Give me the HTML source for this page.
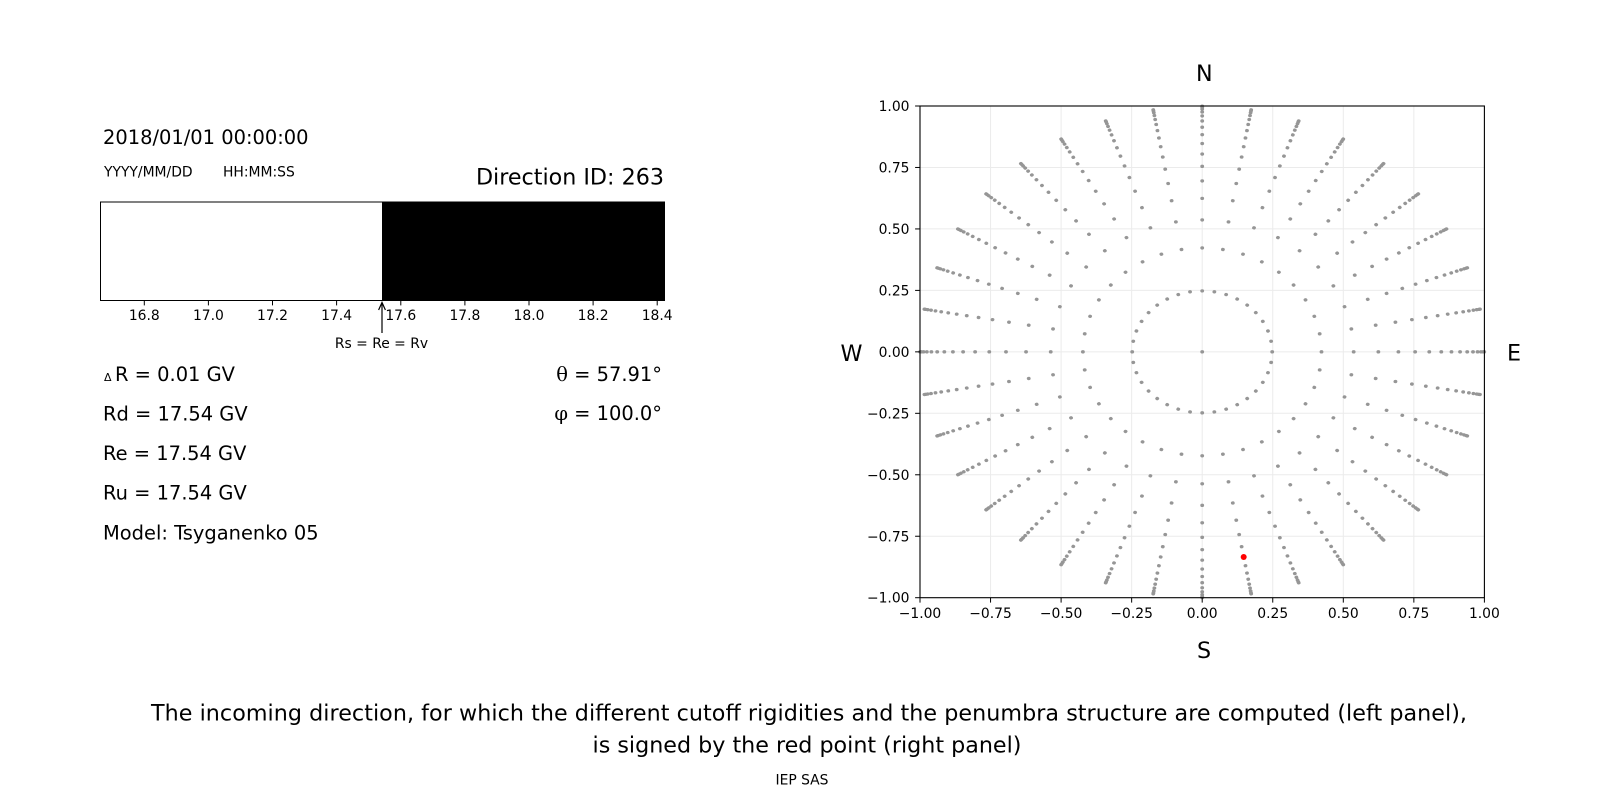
<!DOCTYPE html>
<html>
<head>
<meta charset="utf-8">
<style>
  html, body { margin:0; padding:0; background:#ffffff; }
  svg { display:block; }
  text { font-family: "DejaVu Sans", "Liberation Sans", sans-serif; fill:#000; }
  .t10 { font-size:13.89px; }
  .t14 { font-size:19.44px; }
  .t16 { font-size:22.22px; }
  .serif { font-family: "DejaVu Serif", "Liberation Serif", serif; }
</style>
</head>
<body>
<svg width="1600" height="800" viewBox="0 0 1600 800" xmlns="http://www.w3.org/2000/svg">
  <rect x="0" y="0" width="1600" height="800" fill="#ffffff"/>

  <!-- ================= LEFT PANEL ================= -->
  <text class="t14" x="103" y="144">2018/01/01 00:00:00</text>
  <text class="t10" x="104" y="176.5">YYYY/MM/DD</text>
  <text class="t10" x="223" y="176.5">HH:MM:SS</text>
  <text class="t16" x="664" y="184.3" text-anchor="end">Direction ID: 263</text>

  <!-- bar -->
  <rect x="382" y="202" width="282.5" height="98.5" fill="#000"/>
  <rect x="100.5" y="202" width="564" height="98.5" fill="none" stroke="#000" stroke-width="1"/>

  <!-- bar ticks -->
  <g stroke="#000" stroke-width="1">
    <line x1="144.3" y1="300.5" x2="144.3" y2="305.4"/>
    <line x1="208.4" y1="300.5" x2="208.4" y2="305.4"/>
    <line x1="272.5" y1="300.5" x2="272.5" y2="305.4"/>
    <line x1="336.6" y1="300.5" x2="336.6" y2="305.4"/>
    <line x1="400.8" y1="300.5" x2="400.8" y2="305.4"/>
    <line x1="464.9" y1="300.5" x2="464.9" y2="305.4"/>
    <line x1="529.0" y1="300.5" x2="529.0" y2="305.4"/>
    <line x1="593.1" y1="300.5" x2="593.1" y2="305.4"/>
    <line x1="657.2" y1="300.5" x2="657.2" y2="305.4"/>
  </g>
  <g text-anchor="middle">
    <text class="t10" x="144.3" y="320">16.8</text>
    <text class="t10" x="208.4" y="320">17.0</text>
    <text class="t10" x="272.5" y="320">17.2</text>
    <text class="t10" x="336.6" y="320">17.4</text>
    <text class="t10" x="400.8" y="320">17.6</text>
    <text class="t10" x="464.9" y="320">17.8</text>
    <text class="t10" x="529.0" y="320">18.0</text>
    <text class="t10" x="593.1" y="320">18.2</text>
    <text class="t10" x="657.2" y="320">18.4</text>
  </g>

  <!-- arrow -->
  <line x1="382" y1="333" x2="382" y2="303" stroke="#000" stroke-width="1.2"/>
  <polyline points="378.6,310 382,302.5 385.4,310" fill="none" stroke="#000" stroke-width="1.2"/>
  <text x="381.5" y="348" text-anchor="middle" style="font-size:13.89px">Rs = Re = Rv</text>

  <!-- parameters -->
  <text class="t14" y="381"><tspan x="104" style="font-size:11px">Δ</tspan><tspan x="115">R = 0.01 GV</tspan></text>
  <text class="t14" x="103" y="420.5">Rd = 17.54 GV</text>
  <text class="t14" x="103" y="460">Re = 17.54 GV</text>
  <text class="t14" x="103" y="499.5">Ru = 17.54 GV</text>
  <text class="t14" x="103" y="539.5">Model: Tsyganenko 05</text>

  <text class="t14" x="662" y="381" text-anchor="end"><tspan class="serif">θ</tspan> = 57.91°</text>
  <text class="t14" x="662" y="420" text-anchor="end"><tspan class="serif">φ</tspan> = 100.0°</text>

  <!-- ================= RIGHT PANEL ================= -->
  <!-- grid -->
  <g stroke="#ebebeb" stroke-width="1">
    <line x1="990.55" y1="106" x2="990.55" y2="597.7"/>
    <line x1="1061.1" y1="106" x2="1061.1" y2="597.7"/>
    <line x1="1131.65" y1="106" x2="1131.65" y2="597.7"/>
    <line x1="1202.2" y1="106" x2="1202.2" y2="597.7"/>
    <line x1="1272.75" y1="106" x2="1272.75" y2="597.7"/>
    <line x1="1343.3" y1="106" x2="1343.3" y2="597.7"/>
    <line x1="1413.85" y1="106" x2="1413.85" y2="597.7"/>
    <line x1="920" y1="167.46" x2="1484.4" y2="167.46"/>
    <line x1="920" y1="228.93" x2="1484.4" y2="228.93"/>
    <line x1="920" y1="290.39" x2="1484.4" y2="290.39"/>
    <line x1="920" y1="351.85" x2="1484.4" y2="351.85"/>
    <line x1="920" y1="413.31" x2="1484.4" y2="413.31"/>
    <line x1="920" y1="474.78" x2="1484.4" y2="474.78"/>
    <line x1="920" y1="536.24" x2="1484.4" y2="536.24"/>
  </g>

  <defs>
    <g id="sp">
      <circle cx="0.24804" cy="0" r="0.0068"/>
      <circle cx="0.42274" cy="0" r="0.0068"/>
      <circle cx="0.53674" cy="0" r="0.0068"/>
      <circle cx="0.62422" cy="0" r="0.0068"/>
      <circle cx="0.69527" cy="0" r="0.0068"/>
      <circle cx="0.75454" cy="0" r="0.0068"/>
      <circle cx="0.80465" cy="0" r="0.0068"/>
      <circle cx="0.84722" cy="0" r="0.0068"/>
      <circle cx="0.88333" cy="0" r="0.0068"/>
      <circle cx="0.91376" cy="0" r="0.0068"/>
      <circle cx="0.93906" cy="0" r="0.0068"/>
      <circle cx="0.95964" cy="0" r="0.0068"/>
      <circle cx="0.97578" cy="0" r="0.0068"/>
      <circle cx="0.98772" cy="0" r="0.0068"/>
      <circle cx="0.99560" cy="0" r="0.0068"/>
      <circle cx="0.99951" cy="0" r="0.0068"/>
    </g>
  </defs>

  <g fill="#969696" transform="translate(1202.2,351.85) scale(282.2,-245.85)">
    <circle cx="0" cy="0" r="0.0068"/>
    <use href="#sp" transform="rotate(0)"/>
    <use href="#sp" transform="rotate(10)"/>
    <use href="#sp" transform="rotate(20)"/>
    <use href="#sp" transform="rotate(30)"/>
    <use href="#sp" transform="rotate(40)"/>
    <use href="#sp" transform="rotate(50)"/>
    <use href="#sp" transform="rotate(60)"/>
    <use href="#sp" transform="rotate(70)"/>
    <use href="#sp" transform="rotate(80)"/>
    <use href="#sp" transform="rotate(90)"/>
    <use href="#sp" transform="rotate(100)"/>
    <use href="#sp" transform="rotate(110)"/>
    <use href="#sp" transform="rotate(120)"/>
    <use href="#sp" transform="rotate(130)"/>
    <use href="#sp" transform="rotate(140)"/>
    <use href="#sp" transform="rotate(150)"/>
    <use href="#sp" transform="rotate(160)"/>
    <use href="#sp" transform="rotate(170)"/>
    <use href="#sp" transform="rotate(180)"/>
    <use href="#sp" transform="rotate(190)"/>
    <use href="#sp" transform="rotate(200)"/>
    <use href="#sp" transform="rotate(210)"/>
    <use href="#sp" transform="rotate(220)"/>
    <use href="#sp" transform="rotate(230)"/>
    <use href="#sp" transform="rotate(240)"/>
    <use href="#sp" transform="rotate(250)"/>
    <use href="#sp" transform="rotate(260)"/>
    <use href="#sp" transform="rotate(270)"/>
    <use href="#sp" transform="rotate(280)"/>
    <use href="#sp" transform="rotate(290)"/>
    <use href="#sp" transform="rotate(300)"/>
    <use href="#sp" transform="rotate(310)"/>
    <use href="#sp" transform="rotate(320)"/>
    <use href="#sp" transform="rotate(330)"/>
    <use href="#sp" transform="rotate(340)"/>
    <use href="#sp" transform="rotate(350)"/>
  </g>

  <!-- red point -->
  <circle cx="1243.7" cy="557" r="3" fill="#ff0000"/>

  <!-- spines -->
  <rect x="920" y="106" width="564.4" height="491.7" fill="none" stroke="#000" stroke-width="1.1"/>

  <!-- ticks -->
  <g stroke="#000" stroke-width="1">
    <line x1="920" y1="597.7" x2="920" y2="602.6"/>
    <line x1="990.55" y1="597.7" x2="990.55" y2="602.6"/>
    <line x1="1061.1" y1="597.7" x2="1061.1" y2="602.6"/>
    <line x1="1131.65" y1="597.7" x2="1131.65" y2="602.6"/>
    <line x1="1202.2" y1="597.7" x2="1202.2" y2="602.6"/>
    <line x1="1272.75" y1="597.7" x2="1272.75" y2="602.6"/>
    <line x1="1343.3" y1="597.7" x2="1343.3" y2="602.6"/>
    <line x1="1413.85" y1="597.7" x2="1413.85" y2="602.6"/>
    <line x1="1484.4" y1="597.7" x2="1484.4" y2="602.6"/>
    <line x1="915.1" y1="106" x2="920" y2="106"/>
    <line x1="915.1" y1="167.46" x2="920" y2="167.46"/>
    <line x1="915.1" y1="228.93" x2="920" y2="228.93"/>
    <line x1="915.1" y1="290.39" x2="920" y2="290.39"/>
    <line x1="915.1" y1="351.85" x2="920" y2="351.85"/>
    <line x1="915.1" y1="413.31" x2="920" y2="413.31"/>
    <line x1="915.1" y1="474.78" x2="920" y2="474.78"/>
    <line x1="915.1" y1="536.24" x2="920" y2="536.24"/>
    <line x1="915.1" y1="597.7" x2="920" y2="597.7"/>
  </g>
  <g text-anchor="middle">
    <text class="t10" x="920" y="618">−1.00</text>
    <text class="t10" x="990.55" y="618">−0.75</text>
    <text class="t10" x="1061.1" y="618">−0.50</text>
    <text class="t10" x="1131.65" y="618">−0.25</text>
    <text class="t10" x="1202.2" y="618">0.00</text>
    <text class="t10" x="1272.75" y="618">0.25</text>
    <text class="t10" x="1343.3" y="618">0.50</text>
    <text class="t10" x="1413.85" y="618">0.75</text>
    <text class="t10" x="1484.4" y="618">1.00</text>
  </g>
  <g text-anchor="end">
    <text class="t10" x="909.5" y="111">1.00</text>
    <text class="t10" x="909.5" y="172.5">0.75</text>
    <text class="t10" x="909.5" y="234">0.50</text>
    <text class="t10" x="909.5" y="295.4">0.25</text>
    <text class="t10" x="909.5" y="356.9">0.00</text>
    <text class="t10" x="909.5" y="418.4">−0.25</text>
    <text class="t10" x="909.5" y="479.8">−0.50</text>
    <text class="t10" x="909.5" y="541.3">−0.75</text>
    <text class="t10" x="909.5" y="602.7">−1.00</text>
  </g>

  <!-- compass labels -->
  <text class="t16" x="1204.3" y="81" text-anchor="middle">N</text>
  <text class="t16" x="1204" y="658" text-anchor="middle">S</text>
  <text class="t16" x="851.5" y="361" text-anchor="middle">W</text>
  <text class="t16" x="1514" y="360.7" text-anchor="middle">E</text>

  <!-- caption -->
  <text class="t16" x="809" y="720.7" text-anchor="middle" textLength="1316" lengthAdjust="spacing">The incoming direction, for which the different cutoff rigidities and the penumbra structure are computed (left panel),</text>
  <text class="t16" x="807" y="752.3" text-anchor="middle">is signed by the red point (right panel)</text>
  <text x="802" y="784.5" text-anchor="middle" style="font-size:13.89px">IEP SAS</text>
</svg>
</body>
</html>
